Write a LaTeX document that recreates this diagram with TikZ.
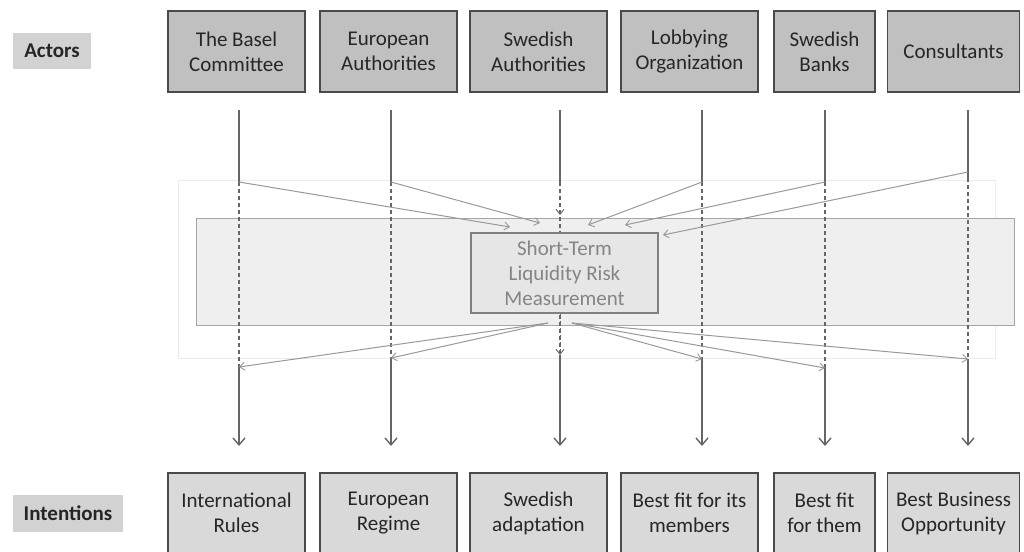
\documentclass[tikz,border=0pt]{standalone}
\usepackage{fontspec}
\setmainfont{Carlito}
\usetikzlibrary{arrows.meta,calc}
\definecolor{topfill}{HTML}{C0C0C0}
\definecolor{botfill}{HTML}{D9D9D9}
\definecolor{tagfill}{HTML}{D2D2D2}
\definecolor{boxline}{HTML}{4A4A4A}
\definecolor{boxtext}{HTML}{262626}
\definecolor{bandfill}{HTML}{EFEFEF}
\definecolor{bandline}{HTML}{A6A6A6}
\definecolor{corefill}{HTML}{E6E6E6}
\definecolor{coreline}{HTML}{808080}
\definecolor{coretext}{HTML}{858585}
\definecolor{flowline}{HTML}{666666}
\definecolor{linkline}{HTML}{999999}
\definecolor{haze}{HTML}{ECECEC}
\begin{document}
\begin{tikzpicture}[x=1pt,y=-1pt,
  boxfont/.style={font=\fontsize{21}{25}\selectfont},
  actor/.style={boxfont, draw=boxline, line width=1.3pt, fill=topfill,
    text=boxtext, minimum height=81pt, align=center, inner sep=0pt},
  aim/.style={boxfont, draw=boxline, line width=1.3pt, fill=botfill,
    text=boxtext, minimum height=80pt, align=center, inner sep=0pt},
  tag/.style={boxfont, fill=tagfill, text=boxtext, inner sep=0pt},
  flow/.style={draw=flowline, line width=1.6pt},
  flowdash/.style={flow, dash pattern=on 4pt off 3pt},
  flowtip/.style={flow, -{Straight Barb[length=7pt,width=12pt,line width=1.4pt]}},
  link/.style={draw=linkline, line width=1pt,
    -{Straight Barb[length=5pt,width=8pt,line width=0.9pt]}},
  linkdash/.style={link, dash pattern=on 4pt off 3pt, draw=flowline}]
\useasboundingbox (0,0) rectangle (1024,551);
\clip (0,0) rectangle (1024,551);

% row labels
\node[tag, minimum width=78pt, minimum height=36pt] (actors) at (52,51) {\bfseries Actors};
\node[tag, minimum width=110pt, minimum height=37pt] (intentions) at (68,513.5) {\bfseries Intentions};

% actors
\node[actor, minimum width=137pt] (a1) at (236.5,51.5) {The Basel\\Committee};
\node[actor, minimum width=137pt] (a2) at (388.5,51.5) {European\\Authorities};
\node[actor, minimum width=137pt] (a3) at (538.5,51.5) {Swedish\\Authorities};
\node[actor, minimum width=137pt] (a4) at (689.5,51.5) {Lobbying\\Organization};
\node[actor, minimum width=101pt] (a5) at (824.5,51.5) {Swedish\\Banks};
\node[actor, minimum width=132pt] (a6) at (953.5,51.5) {Consultants};

% intentions
\node[aim, minimum width=137pt] (b1) at (236.5,513) {International\\Rules};
\node[aim, minimum width=137pt] (b2) at (388.5,513) {European\\Regime};
\node[aim, minimum width=137pt] (b3) at (538.5,513) {Swedish\\adaptation};
\node[aim, minimum width=137pt] (b4) at (689.5,513) {Best fit for its\\members};
\node[aim, minimum width=101pt] (b5) at (824.5,513) {Best fit\\for them};
\node[aim, minimum width=132pt] (b6) at (953.5,513) {Best Business\\Opportunity};

% faint frame and the measurement band
\node[draw=haze, line width=0.8pt, minimum width=817pt, minimum height=178pt, inner sep=0pt] (frame) at (586.5,269) {};
\node[draw=bandline, fill=bandfill, line width=1pt, minimum width=818pt, minimum height=107pt, inner sep=0pt] (band) at (605,271.5) {};

% vertical flow lines: top, upper junction, lower junction, end
\foreach \i/\x/\u/\l in {1/239/182/367, 2/391/182/358, 3/560/182/355, 4/702/182/359, 5/825/182/368, 6/968/178/359}{
  \coordinate (t\i) at (\x,110);
  \coordinate (u\i) at (\x,\u);
  \coordinate (l\i) at (\x,\l);
  \coordinate (e\i) at (\x,446);
}
\foreach \i in {1,2,4,5,6}{
  \draw[flow] (t\i) -- (u\i);
  \draw[flowdash] (u\i) -- (l\i);
  \draw[flowtip] (l\i) -- (e\i);
}
\draw[flow] (t3) -- (u3);
\draw[flowdash] (u3) -- (l3);
\draw[flowtip] (l3) -- (e3);

% central object
\node[draw=coreline, fill=corefill, line width=1.2pt, minimum width=187pt, minimum height=80pt,
  align=center, boxfont, text=coretext, inner sep=0pt] (c) at (564.5,273) {Short-Term\\Liquidity Risk\\Measurement};

% influences towards the object
\coordinate (s6) at (968,172);
\coordinate (i1) at (510,227);
\coordinate (i2) at (540,223);
\coordinate (i3) at (560,215);
\coordinate (i4) at (588,225);
\coordinate (i5) at (625,225);
\coordinate (i6) at (663,235);
\draw[link] (u1) -- (i1);
\draw[link] (u2) -- (i2);
\draw[linkdash] (u3) -- (i3);
\draw[link] (u4) -- (i4);
\draw[link] (u5) -- (i5);
\draw[link] (s6) -- (i6);

% effects from the object
\coordinate (oL) at (548,323);
\coordinate (oR) at (572,323);
\coordinate (oM) at (560,314);
\draw[link] (oL) -- (l1);
\draw[link] (oL) -- (l2);
\draw[linkdash] (oM) -- (l3);
\draw[link] (oR) -- (l4);
\draw[link] (oR) -- (l5);
\draw[link] (oR) -- (l6);
\end{tikzpicture}
\end{document}
